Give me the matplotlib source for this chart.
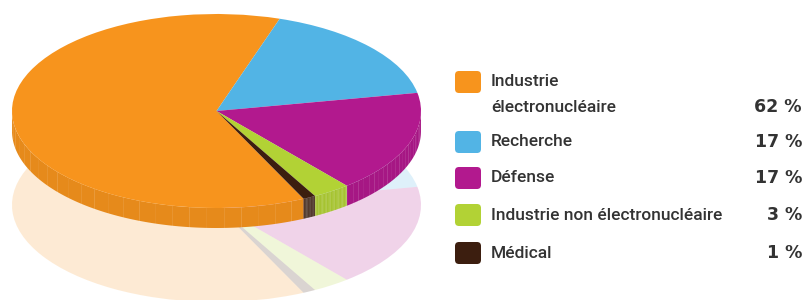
import numpy as np
import matplotlib
matplotlib.use("Agg")
import matplotlib.pyplot as plt
import matplotlib.colors as mcolors
from matplotlib.patches import FancyBboxPatch, Polygon

# data
labels = ["Industrie\nélectronucléaire", "Recherche", "Défense",
          "Industrie non électronucléaire", "Médical"]
shares = [62, 17, 17, 3, 1]
colors = ["#F7941D", "#52B4E5", "#B2198E", "#B2D235", "#3C1E0F"]

plt.rcParams["font.family"] = ["Roboto", "DejaVu Sans"]

W, H = 804, 300
fig = plt.figure(figsize=(W / 100, H / 100), dpi=100)


def px_axes(x0, y0, x1, y1):
    # axes placed in pixel coords measured from top-left
    return fig.add_axes([x0 / W, (H - y1) / H, (x1 - x0) / W, (y1 - y0) / H])


start = 295.2  # puts the orange/blue boundary near the top-right

# faded reflection below the pie
ax_ref = px_axes(12, 108, 421, 302)
ax_ref.pie(shares, colors=colors, startangle=start, counterclock=False,
           radius=1, wedgeprops=dict(linewidth=0, alpha=0.19))
ax_ref.set_aspect("auto")
ax_ref.set_xlim(-1, 1)
ax_ref.set_ylim(-1, 1)
ax_ref.axis("off")

# main pie (top face), squashed into an ellipse by the axes box
ax = px_axes(12, 14, 421, 208)
wedges, _ = ax.pie(shares, colors=colors, startangle=start, counterclock=False,
                   radius=1, wedgeprops=dict(linewidth=0, zorder=3))
ax.set_aspect("auto")
ax.set_xlim(-1, 1)
ax.set_ylim(-1, 1)
ax.axis("off")

# side of the disc, only the front half is visible
thick = 20 / 97
for w, c in zip(wedges, colors):
    t1, t2 = w.theta1, w.theta2
    side = np.array(mcolors.to_rgb(c)) * 0.93
    for k in range(-2, 3):
        a = max(t1, 180 + 360 * k)
        b = min(t2, 360 + 360 * k)
        if b <= a:
            continue
        t = np.radians(np.linspace(a, b, 120))
        top = np.column_stack([np.cos(t), np.sin(t)])
        bot = np.column_stack([np.cos(t[::-1]), np.sin(t[::-1]) - thick])
        ax.add_patch(Polygon(np.vstack([top, bot]), closed=True,
                             facecolor=side, edgecolor="none",
                             zorder=2, clip_on=False))
        # faint vertical streaks to mimic the original texture
        for j, tt in enumerate(t[::5]):
            ax.plot([np.cos(tt)] * 2, [np.sin(tt), np.sin(tt) - thick],
                    color="white", alpha=0.06 + 0.05 * (j % 3), lw=0.6,
                    zorder=2.5, clip_on=False)

# legend block on the right
lg = px_axes(0, 0, W, H)
lg.set_xlim(0, W)
lg.set_ylim(H, 0)
lg.axis("off")

row_y = [82, 142, 178, 215, 253]
line_gap = 25
for lab, val, c, y in zip(labels, shares, colors, row_y):
    lg.add_patch(FancyBboxPatch((455, y - 11), 26, 22,
                                boxstyle="round,pad=0,rounding_size=4",
                                facecolor=c, edgecolor="none"))
    lines = lab.split("\n")
    for i, line in enumerate(lines):
        lg.text(491, y + line_gap * i, line, ha="left", va="center",
                fontsize=12.5, color="#333333", fontweight="medium")
    last_y = y + line_gap * (len(lines) - 1)
    lg.text(802, last_y, f"{val} %", ha="right", va="center", fontsize=12.5,
            fontweight="bold", color="#333333", family="DejaVu Sans")

fig.savefig("out.png", dpi=100)
